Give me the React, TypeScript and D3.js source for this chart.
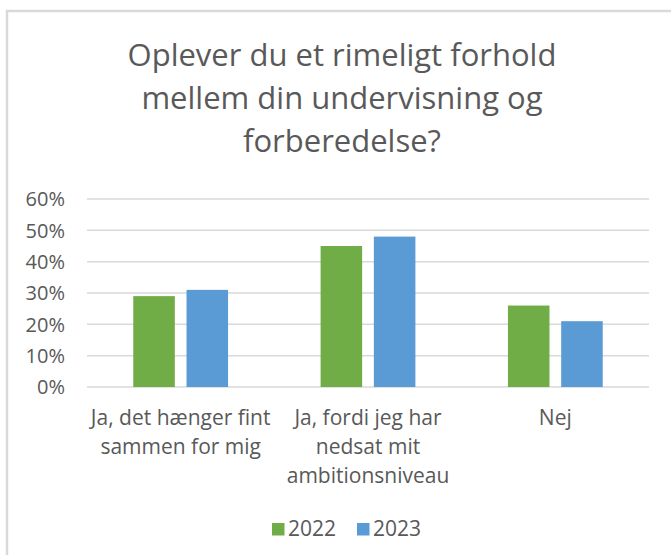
import React from "react";
import * as d3 from "d3";

const categories: string[][] = [
  ["Ja, det hænger fint", "sammen for mig"],
  ["Ja, fordi jeg har", "nedsat mit", "ambitionsniveau"],
  ["Nej"],
];
const categoryKeys = ["c1", "c2", "c3"];
const seriesNames = ["2022", "2023"];
const values2022 = [0.29, 0.45, 0.26];
const values2023 = [0.31, 0.48, 0.21];
const seriesColors = ["#70AD47", "#5B9BD5"];
const yTicks = [0, 0.1, 0.2, 0.3, 0.4, 0.5, 0.6];
const titleLines = [
  "Oplever du et rimeligt forhold",
  "mellem din undervisning og",
  "forberedelse?",
];

const W = 671;
const H = 555;
const FONT = "'Open Sans', 'Noto Sans', sans-serif";
const TEXT = "#595959";

export default function App() {
  const plotLeft = 87;
  const plotRight = 649;
  const plotTop = 199;
  const plotBottom = 387;

  const y = d3.scaleLinear().domain([0, 0.6]).range([plotBottom, plotTop]);
  const x0 = d3.scaleBand<string>().domain(categoryKeys).range([plotLeft, plotRight]).paddingInner(0).paddingOuter(0);
  const step = x0.bandwidth();
  const x1 = d3
    .scaleBand<string>()
    .domain(seriesNames)
    .range([step * 0.247, step * 0.753])
    .paddingInner(0.22)
    .paddingOuter(0);

  const seriesValues = [values2022, values2023];
  const fmt = d3.format(".0%");
  const titleCenter = 342;

  return (
    <div style={{ position: "absolute", left: 0, top: 0 }}>
      <svg width={W} height={H} style={{ display: "block", background: "#fff" }}>
        <rect x={0} y={0} width={W} height={H} fill="#fff" />
        <rect x={7} y={11} width={W + 20} height={H + 20} fill="none" stroke="#d9d9d9" strokeWidth={2.5} />
        {titleLines.map((t, i) => (
          <text
            key={i}
            x={titleCenter}
            y={66 + i * 43}
            textAnchor="middle"
            fontFamily={FONT}
            fontSize={31}
            fill={TEXT}
          >
            {t}
          </text>
        ))}
        {yTicks.map((t) => (
          <g key={t}>
            <line x1={plotLeft} x2={plotRight} y1={y(t)} y2={y(t)} stroke="#d9d9d9" strokeWidth={1.5} />
            <text
              x={65}
              y={y(t)}
              dy="0.36em"
              textAnchor="end"
              fontFamily={FONT}
              fontSize={20}
              fill={TEXT}
            >
              {fmt(t)}
            </text>
          </g>
        ))}
        {categoryKeys.map((c, ci) => (
          <g key={c} transform={`translate(${x0(c)},0)`}>
            {seriesNames.map((s, si) => {
              const v = seriesValues[si][ci];
              return (
                <rect
                  key={s}
                  x={x1(s)}
                  y={y(v)}
                  width={x1.bandwidth()}
                  height={y(0) - y(v)}
                  fill={seriesColors[si]}
                />
              );
            })}
            {categories[ci].map((line, li) => (
              <text
                key={li}
                x={step / 2}
                y={425 + li * 29}
                textAnchor="middle"
                fontFamily={FONT}
                fontSize={21}
                fill={TEXT}
              >
                {line}
              </text>
            ))}
          </g>
        ))}
        {seriesNames.map((s, i) => {
          const lx = 272 + i * 85;
          return (
            <g key={s} transform={`translate(${lx},0)`}>
              <rect x={0} y={523} width={12.5} height={12.5} fill={seriesColors[i]} />
              <text x={16} y={536} fontFamily={FONT} fontSize={21} fill={TEXT}>
                {s}
              </text>
            </g>
          );
        })}
      </svg>
    </div>
  );
}
